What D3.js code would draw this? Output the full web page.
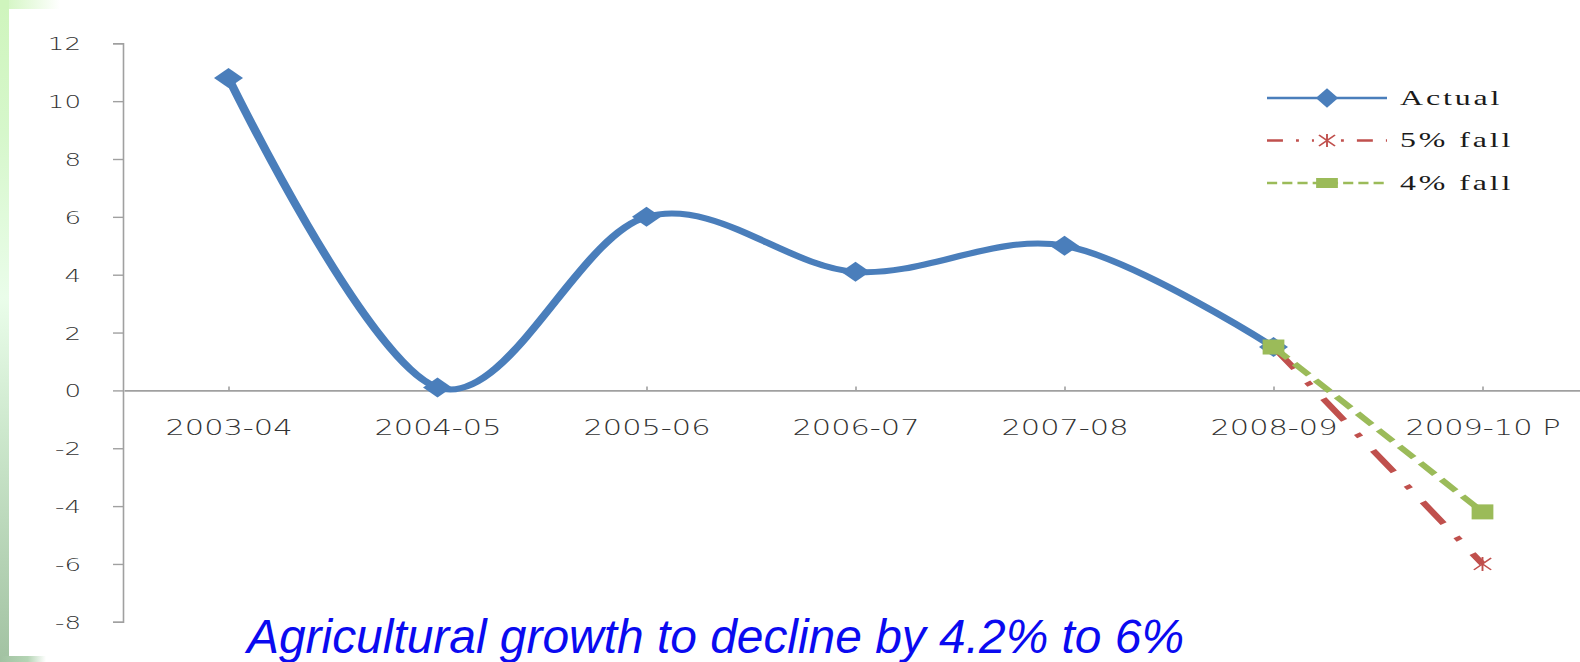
<!DOCTYPE html>
<html><head><meta charset="utf-8">
<script src="https://cdn.jsdelivr.net/npm/d3@7"></script>
<style>html,body{margin:0;padding:0;background:#fff;overflow:hidden}</style>
</head><body>
<svg id="chart" width="1580" height="662"></svg>
<script>
// ---- data ----
const categories = ["2003-04","2004-05","2005-06","2006-07","2007-08","2008-09","2009-10 P"];
const actualCategories = ["2003-04","2004-05","2005-06","2006-07","2007-08","2008-09"];
const actualValues = [10.8, 0.1, 6.0, 4.1, 5.0, 1.5];
const fall5Categories = ["2008-09","2009-10 P"];
const fall5Values = [1.5, -6.0];
const fall4Categories = ["2008-09","2009-10 P"];
const fall4Values = [1.5, -4.2];
const seriesNames = ["Actual","5% fall","4% fall"];
const yTickValues = [-8,-6,-4,-2,0,2,4,6,8,10,12];
const titleText = "Agricultural growth to decline by 4.2% to 6%";

// ---- setup ----
const W = 1580, H = 662, SX = 1.45;
const svg = d3.select("#chart");
const defs = svg.append("defs");
const lg = defs.append("linearGradient").attr("id","leftStrip").attr("x1",0).attr("y1",0).attr("x2",0).attr("y2",1);
[[0,"#cff5bd"],[0.2,"#d6f7cb"],[0.45,"#eafdea"],[0.65,"#cde8cd"],[0.85,"#b4d2b4"],[1,"#a2c2a2"]]
  .forEach(s=>lg.append("stop").attr("offset",s[0]).attr("stop-color",s[1]));
const tg = defs.append("linearGradient").attr("id","topStrip");
[[0,"#cff5bd"],[1,"#ffffff"]].forEach(s=>tg.append("stop").attr("offset",s[0]).attr("stop-color",s[1]));
const bg = defs.append("linearGradient").attr("id","botStrip");
[[0,"#a2c2a2"],[0.6,"#b4d4b4"],[1,"#ffffff"]].forEach(s=>bg.append("stop").attr("offset",s[0]).attr("stop-color",s[1]));

svg.append("rect").attr("width",W).attr("height",H).attr("fill","#fff");
svg.append("rect").attr("x",0).attr("y",0).attr("width",9).attr("height",H).attr("fill","url(#leftStrip)");
svg.append("rect").attr("x",0).attr("y",0).attr("width",60).attr("height",9).attr("fill","url(#topStrip)");
svg.append("rect").attr("x",0).attr("y",656).attr("width",46).attr("height",6).attr("fill","url(#botStrip)");
svg.append("rect").attr("x",0).attr("y",0).attr("width",9).attr("height",9).attr("fill","#cff5bd");

const x = d3.scalePoint().domain(categories).range([124, 1587]).padding(0.5);
const y = d3.scaleLinear().domain([-8, 12]).range([621.8, 43.3]);
const xu = c => x(c) / SX;

const axisColor = "#a0a0a0";
const labelColor = "#333";

// x axis
const gx = svg.append("g").attr("transform", `translate(0,${y(0)})`)
  .call(d3.axisBottom(x).tickSizeInner(-4).tickSizeOuter(0).tickPadding(0));
gx.select(".domain").attr("stroke", axisColor).attr("stroke-width", 1.6);
gx.selectAll(".tick line").attr("stroke", axisColor).attr("stroke-width", 1.6);
gx.selectAll(".tick text").attr("y", 0).attr("dy", 0)
  .attr("transform", `translate(0,44.6) scale(${SX},1)`)
  .attr("text-anchor","middle")
  .attr("font-family","DejaVu Sans").attr("font-weight",300).attr("font-size",21).attr("fill",labelColor);

// y axis
const gy = svg.append("g").attr("transform", "translate(123,0)")
  .call(d3.axisLeft(y).tickValues(yTickValues).tickFormat(d => String(d)).tickSize(10));
gy.select(".domain").attr("stroke", axisColor).attr("stroke-width", 1.6);
gy.selectAll(".tick line").attr("stroke", axisColor).attr("stroke-width", 1.4);
gy.selectAll(".tick text").attr("x", 0).attr("dy", "0.36em")
  .attr("transform", `translate(-42,0) scale(${SX},1)`)
  .attr("text-anchor","end")
  .attr("font-family","DejaVu Sans").attr("font-weight",300).attr("font-size",18).attr("fill",labelColor);

// stretched plot group
const g = svg.append("g").attr("transform", `scale(${SX},1)`);
const blue = "#4a7ebb", red = "#c0504d", green = "#9bbb59";

const line = d3.line().x(d => xu(d.c)).y(d => y(d.v)).curve(d3.curveCardinal.tension(0));
const actual = actualCategories.map((c,i)=>({c, v: actualValues[i]}));
const f5 = fall5Categories.map((c,i)=>({c, v: fall5Values[i]}));
const f4 = fall4Categories.map((c,i)=>({c, v: fall4Values[i]}));

const diamond = r => `M0,${-r}L${r},0L0,${r}L${-r},0Z`;
const star = r => `M0,${-r}V${r}M${-r*0.85},${-r*0.85}L${r*0.85},${r*0.85}M${-r*0.85},${r*0.85}L${r*0.85},${-r*0.85}`;

g.append("path").datum(actual).attr("d", line).attr("fill","none")
  .attr("stroke", blue).attr("stroke-width", 6).attr("stroke-linejoin","round");
g.selectAll(".mA").data(actual).join("path").attr("class","mA")
  .attr("transform", d => `translate(${xu(d.c)},${y(d.v)})`)
  .attr("d", diamond(10)).attr("fill", blue);

g.append("path").datum(f5).attr("d", line).attr("fill","none")
  .attr("stroke", red).attr("stroke-width", 5).attr("stroke-dasharray","26,16,4,16");
g.selectAll(".m5").data(f5).join("path").attr("class","m5")
  .attr("transform", d => `translate(${xu(d.c)},${y(d.v)})`)
  .attr("d", star(7)).attr("fill","none").attr("stroke", red).attr("stroke-width", 1.3);

g.append("path").datum(f4).attr("d", line).attr("fill","none")
  .attr("stroke", green).attr("stroke-width", 5).attr("stroke-dasharray","15,7");
g.selectAll(".m4").data(f4).join("rect").attr("class","m4")
  .attr("x", d => xu(d.c) - 7.5).attr("y", d => y(d.v) - 7.5)
  .attr("width", 15).attr("height", 15).attr("fill", green);

// legend
const legX0 = 1267/SX, legX1 = 1387/SX, legMid = 1327/SX, legTx = 1400/SX;
const legY = i => 98 + i*42.5;
const legStyles = [
  {color: blue, dash: null},
  {color: red, dash: "11,9,2,9"},
  {color: green, dash: "7,3.5"}
];
seriesNames.forEach((name, i) => {
  const gy0 = legY(i);
  const st = legStyles[i];
  g.append("line").attr("x1", legX0).attr("x2", legX1).attr("y1", gy0).attr("y2", gy0)
    .attr("stroke", st.color).attr("stroke-width", 2.5)
    .attr("stroke-dasharray", st.dash);
  if (i === 0) {
    g.append("path").attr("transform", `translate(${legMid},${gy0}) scale(0.55,0.7)`)
      .attr("d", diamond(14)).attr("fill", blue);
  } else if (i === 1) {
    g.append("rect").attr("x", legMid-9).attr("y", gy0-8).attr("width",18).attr("height",16).attr("fill","#fff");
    g.append("path").attr("transform", `translate(${legMid},${gy0})`)
      .attr("d", star(6.5)).attr("fill","none").attr("stroke", red).attr("stroke-width", 1.3);
  } else {
    g.append("rect").attr("x", legMid-7.5).attr("y", gy0-5).attr("width",15).attr("height",10).attr("fill", green);
  }
  g.append("text").attr("x", legTx).attr("y", gy0 + 7)
    .attr("font-family","Liberation Serif").attr("font-size", 22)
    .attr("letter-spacing", 2).attr("fill","#1a1a1a").text(name);
});

// title
svg.append("text").attr("x", 247).attr("y", 653)
  .attr("font-family","Liberation Sans, Arial").attr("font-style","italic").attr("font-size", 48)
  .attr("fill","#0a0af0").attr("textLength", 937).attr("lengthAdjust","spacingAndGlyphs")
  .text(titleText);
</script>
</body></html>
